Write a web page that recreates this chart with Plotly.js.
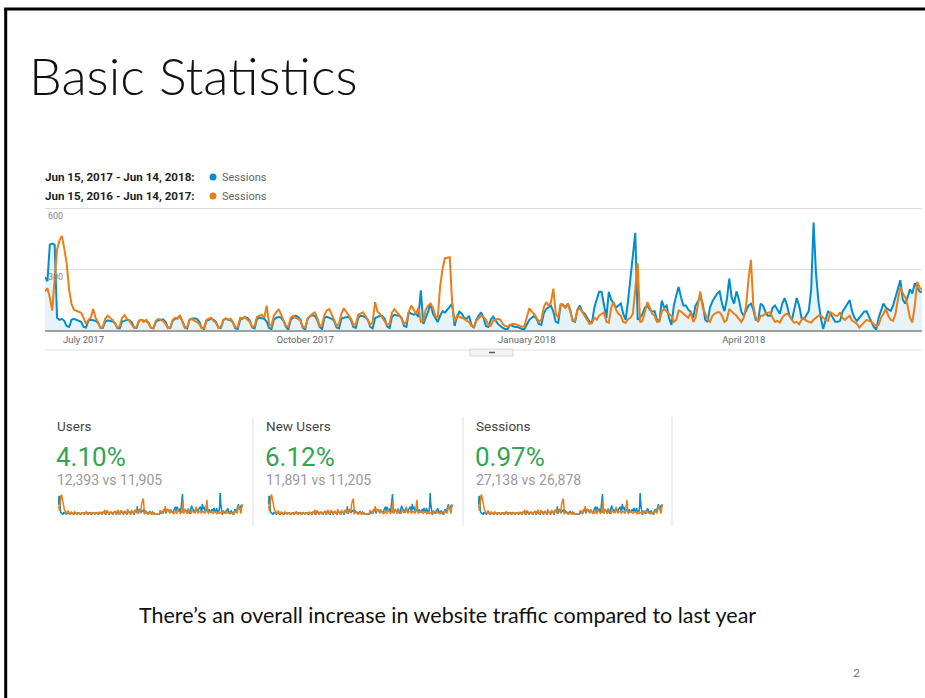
<!DOCTYPE html>
<html><head><meta charset="utf-8">
<script src="https://cdn.plot.ly/plotly-3.0.1.min.js"></script>
<style>html,body{margin:0;padding:0;background:#fff;overflow:hidden}#chart{width:925px;height:698px}</style>
</head><body><div id="chart"></div>
<script>
// ---------- DATA ----------
const periodStart = [2017, 5, 15];   // Jun 15, 2017 (month is 0-based)
const currentLabel = 'Jun 15, 2017 - Jun 14, 2018:';
const previousLabel = 'Jun 15, 2016 - Jun 14, 2017:';
const metricName = 'Sessions';

// Daily sessions, Jun 15, 2017 - Jun 14, 2018 (blue)
const sessionsCurrent = [
 260,240,420,425,420,60,50,
 55,45,20,15,50,55,50,
 48,40,15,12,45,50,48,
 45,35,12,10,40,48,45,
 42,35,10,8,42,45,50,
 48,38,12,10,45,50,46,
 44,36,10,8,40,48,50,
 52,40,12,10,45,55,60,
 65,45,15,8,50,55,58,
 55,42,10,5,45,52,55,
 50,40,12,10,48,55,52,
 48,38,8,5,50,58,62,
 60,45,12,8,55,60,58,
 55,42,10,5,52,60,65,
 60,45,15,2,50,62,70,
 65,50,12,2,55,68,72,
 70,50,15,5,60,65,60,
 55,45,12,8,55,60,62,
 65,48,15,10,60,70,68,
 62,50,15,8,58,65,70,
 68,55,18,10,65,75,72,
 70,60,20,15,90,80,75,
 80,65,195,30,60,90,130,
 80,60,40,70,93,85,100,
 110,130,20,65,90,80,60,
 55,70,25,10,50,70,87,
 60,20,15,50,65,45,30,
 20,10,5,5,25,20,15,
 15,10,5,5,25,50,60,
 70,55,30,25,80,103,110,
 120,90,40,35,120,125,110,
 130,100,45,40,100,120,90,
 80,60,40,35,110,150,188,
 188,120,60,188,150,130,110,
 120,130,80,50,145,260,380,
 478,50,60,80,110,120,100,
 90,93,50,40,145,110,120,
 60,25,120,170,212,160,120,
 120,100,90,60,120,140,163,
 130,50,40,110,140,160,180,
 190,130,93,150,253,160,130,
 190,150,90,70,100,120,130,
 100,50,45,130,120,90,70,
 70,110,120,100,80,130,157,
 120,70,50,110,157,120,60,
 53,70,93,200,528,280,145,
 60,5,50,93,80,60,40,
 40,45,90,110,130,147,90,
 60,45,60,80,90,93,70,
 40,15,2,60,100,130,110,
 100,93,120,163,200,245,150,
 130,160,200,180,230,210,190,
 185
];

// Daily sessions, Jun 15, 2016 - Jun 14, 2017 (orange)
const sessionsPrevious = [
 190,205,160,95,250,395,440,
 463,400,328,200,128,100,95,
 90,85,60,30,50,60,103,
 60,40,10,15,55,70,60,
 50,35,10,20,60,73,55,
 45,30,10,15,45,50,40,
 50,30,10,10,45,55,50,
 45,30,8,12,50,60,55,
 73,40,10,15,50,55,45,
 40,30,10,10,50,55,60,
 45,35,10,15,50,58,50,
 55,40,12,15,60,55,65,
 50,40,15,20,65,70,75,
 60,120,30,20,70,85,103,
 75,50,20,15,60,70,60,
 55,45,15,12,55,70,80,
 87,60,20,25,75,97,103,
 80,50,20,30,80,107,90,
 70,55,25,30,75,80,87,
 70,50,25,40,137,90,80,
 60,40,25,30,85,103,90,
 75,55,30,40,90,120,100,
 80,110,40,45,100,120,130,
 110,70,60,213,300,353,355,
 358,130,40,70,65,60,55,
 45,40,20,15,45,60,70,
 65,50,25,20,45,50,55,
 50,30,20,15,25,30,30,
 25,20,15,20,65,107,90,
 80,60,40,50,110,137,120,
 137,203,80,60,130,120,110,
 130,90,50,45,100,107,90,
 70,50,30,35,60,50,70,
 80,87,40,35,110,137,100,
 80,70,40,35,53,60,80,
 200,328,37,45,90,137,110,
 80,70,40,45,90,103,90,
 80,70,40,50,95,90,80,
 70,60,87,40,60,120,190,
 110,80,53,40,70,80,87,
 87,70,40,50,103,90,80,
 70,53,40,60,120,250,345,
 120,60,40,70,70,80,85,
 87,60,40,45,37,60,75,
 80,70,50,35,40,28,50,
 60,45,40,37,50,60,70,
 70,60,50,45,87,80,70,
 70,87,60,50,60,70,45,
 40,30,12,25,40,50,45,
 40,30,20,25,60,80,103,
 70,50,45,80,150,210,180,
 163,120,60,37,120,237,210,
 197
];

const xTickDates = ['2017-07-01','2017-10-01','2018-01-01','2018-04-01'];
const xTickLabels = ['July 2017','October 2017','January 2018','April 2018'];
const yTickValues = [0, 300, 600];
const yTickLabels = ['', '300', '600'];

const kpiNames = ['Users', 'New Users', 'Sessions'];
const kpiChange = ['4.10%', '6.12%', '0.97%'];
const kpiCurrent = ['12,393', '11,891', '27,138'];
const kpiPrevious = ['11,905', '11,205', '26,878'];

const slideTitle = 'Basic Statistics';
const slideNote = 'There’s an overall increase in website traffic compared to last year';
const pageNumber = '2';

// ---------- BUILD ----------
const W = 925, H = 698;
const px = x => x / W;
const py = y => 1 - y / H;

const dates = sessionsCurrent.map((_, i) =>
  new Date(Date.UTC(periodStart[0], periodStart[1], periodStart[2] + i)).toISOString().slice(0, 10));

const BLUE = '#058dc7', ORANGE = '#ed7e17';
const traces = [];

// main chart
traces.push({x: dates, y: sessionsCurrent, type: 'scatter', mode: 'lines', xaxis: 'x', yaxis: 'y',
  line: {color: BLUE, width: 2}, fill: 'tozeroy', fillcolor: 'rgba(5,141,199,0.10)', hoverinfo: 'skip'});
traces.push({x: dates, y: sessionsPrevious, type: 'scatter', mode: 'lines', xaxis: 'x', yaxis: 'y',
  line: {color: ORANGE, width: 2}, hoverinfo: 'skip'});

// sparklines
const cardX = [57, 266, 476];
const sparkLeft = [58, 268, 478];
const sparkW = 185;
for (let k = 0; k < 3; k++) {
  const ax = k + 2;
  traces.push({x: dates, y: sessionsCurrent, type: 'scatter', mode: 'lines', xaxis: 'x' + ax, yaxis: 'y' + ax,
    line: {color: BLUE, width: 1.5}, hoverinfo: 'skip'});
  traces.push({x: dates, y: sessionsPrevious, type: 'scatter', mode: 'lines', xaxis: 'x' + ax, yaxis: 'y' + ax,
    line: {color: ORANGE, width: 1.5}, hoverinfo: 'skip'});
}

const yTop = 615;  // headroom above 600 so the 600 grid line is drawn
const layout = {
  width: W, height: H, margin: {l: 0, r: 0, t: 0, b: 0},
  paper_bgcolor: '#ffffff', plot_bgcolor: 'rgba(0,0,0,0)', showlegend: false,
  xaxis: {domain: [px(45), px(922)], anchor: 'y', type: 'date', range: [dates[0], dates[dates.length - 1]],
    tickvals: xTickDates, ticktext: xTickLabels, ticks: '', showgrid: false, zeroline: false,
    showline: true, linecolor: '#a0a0a0', linewidth: 2,
    tickfont: {family: 'Roboto, sans-serif', size: 9.5, color: '#666'}, fixedrange: true},
  yaxis: {domain: [py(330), py(330 - 122 * yTop / 600)], anchor: 'x', range: [0, yTop], tickvals: yTickValues,
    showgrid: true, gridcolor: '#dedede', gridwidth: 1, zeroline: false, ticks: '', showline: false,
    showticklabels: false, fixedrange: true},
  shapes: [], annotations: []
};

for (let k = 0; k < 3; k++) {
  const ax = k + 2;
  layout['xaxis' + ax] = {domain: [px(sparkLeft[k]), px(sparkLeft[k] + sparkW)], anchor: 'y' + ax,
    type: 'date', range: [dates[0], dates[dates.length - 1]], visible: false, fixedrange: true};
  layout['yaxis' + ax] = {domain: [py(515), py(493)], anchor: 'x' + ax, range: [0, 500], visible: false, fixedrange: true};
}

const S = layout.shapes, A = layout.annotations;
// slide border
S.push({type: 'line', xref: 'paper', yref: 'paper', x0: px(5.7), x1: px(5.7), y0: py(9), y1: py(700), line: {color: '#000', width: 3}});
S.push({type: 'line', xref: 'paper', yref: 'paper', x0: px(4.2), x1: px(930), y0: py(9), y1: py(9), line: {color: '#000', width: 3}});
// bottom rule of chart + handle
S.push({type: 'line', xref: 'paper', yref: 'paper', x0: px(45), x1: px(922), y0: py(350), y1: py(350), line: {color: '#e2e2e2', width: 1}});
S.push({type: 'rect', xref: 'paper', yref: 'paper', x0: px(470), x1: px(513), y0: py(356), y1: py(349), fillcolor: '#f3f3f3', line: {color: '#d6d6d6', width: 1}});
S.push({type: 'line', xref: 'paper', yref: 'paper', x0: px(489), x1: px(495), y0: py(352.5), y1: py(352.5), line: {color: '#555', width: 1.5}});
// legend dots
S.push({type: 'circle', xref: 'paper', yref: 'paper', x0: px(209.5), x1: px(216.5), y0: py(180.5), y1: py(173.5), fillcolor: BLUE, line: {width: 0}});
S.push({type: 'circle', xref: 'paper', yref: 'paper', x0: px(209.5), x1: px(216.5), y0: py(199.5), y1: py(192.5), fillcolor: ORANGE, line: {width: 0}});
// card dividers
[253, 463, 672].forEach(x => S.push({type: 'line', xref: 'paper', yref: 'paper', x0: px(x), x1: px(x), y0: py(417), y1: py(526), line: {color: '#e0e0e0', width: 1}}));

function txt(text, x, y, size, color, family, extra) {
  A.push(Object.assign({text: text, xref: 'paper', yref: 'paper', x: px(x), y: py(y), xanchor: 'left', yanchor: 'middle',
    showarrow: false, font: {family: family, size: size, color: color}}, extra || {}));
}
const GA = 'Roboto, sans-serif';
const SLIDE = 'Lato, sans-serif';

// y-axis labels, GA style: just below each grid line, inside the plot
yTickValues.forEach((v, i) => {
  if (!yTickLabels[i]) return;
  A.push({text: yTickLabels[i], xref: 'paper', yref: 'y', x: px(46), y: v, xanchor: 'left', yanchor: 'top',
    yshift: -1, showarrow: false, font: {family: GA, size: 9, color: '#888'}});
});

txt(slideTitle, 27, 75, 52, '#111', SLIDE, {font: {family: SLIDE, size: 52, color: '#111', weight: 300}});
txt('<b>' + currentLabel + '</b>', 43, 177, 11.6, '#222', GA);
txt('<b>' + previousLabel + '</b>', 43, 196, 11.6, '#222', GA);
txt(metricName, 220, 177, 11, '#666', GA);
txt(metricName, 220, 196, 11, '#666', GA);

for (let k = 0; k < 3; k++) {
  txt(kpiNames[k], cardX[k] - 2, 426, 13.5, '#444', GA);
  txt(kpiChange[k], cardX[k] - 3, 457, 26, '#34a353', GA);
  txt(kpiCurrent[k] + ' vs ' + kpiPrevious[k], cardX[k] - 2, 480, 14, '#9a9a9a', GA);
}

A.push({text: slideNote, xref: 'paper', yref: 'paper', x: px(447), y: py(615), xanchor: 'center', yanchor: 'middle',
  showarrow: false, font: {family: SLIDE, size: 21.5, color: '#111'}});
A.push({text: pageNumber, xref: 'paper', yref: 'paper', x: px(856), y: py(672), xanchor: 'center', yanchor: 'middle',
  showarrow: false, font: {family: SLIDE, size: 12, color: '#777'}});

Plotly.newPlot('chart', traces, layout, {staticPlot: true, displayModeBar: false});
</script></body></html>
